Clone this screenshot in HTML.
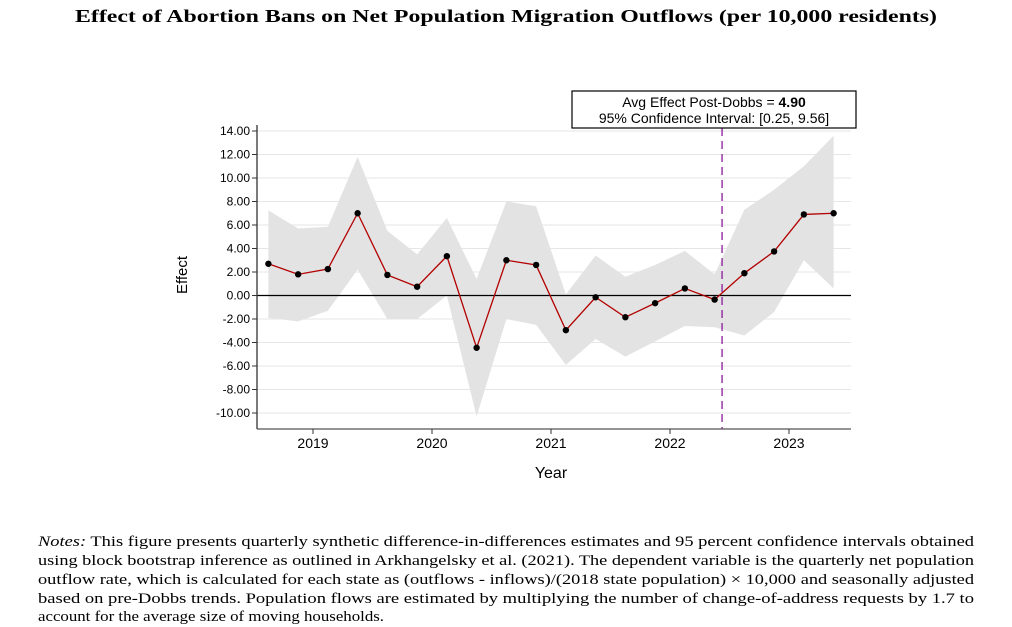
<!DOCTYPE html>
<html><head><meta charset="utf-8"><style>
body{margin:0;background:#fff;width:1012px;height:627px;overflow:hidden;position:relative}
svg{position:absolute;left:0;top:0}
text{font-family:"Liberation Sans",sans-serif}
text.serif,.serif text{font-family:"Liberation Serif",serif}
</style></head><body>
<svg id="chart" width="1012" height="627">
<text class="serif" x="75" y="22" font-size="18" font-weight="bold" textLength="862" lengthAdjust="spacingAndGlyphs">Effect of Abortion Bans on Net Population Migration Outflows (per 10,000 residents)</text>
<g class="serif" font-size="15">
<text x="38" y="546" textLength="936" lengthAdjust="spacingAndGlyphs"><tspan font-style="italic">Notes:</tspan> This figure presents quarterly synthetic difference-in-differences estimates and 95 percent confidence intervals obtained</text>
<text x="38" y="565" textLength="936" lengthAdjust="spacingAndGlyphs">using block bootstrap inference as outlined in Arkhangelsky et al. (2021). The dependent variable is the quarterly net population</text>
<text x="38" y="584" textLength="936" lengthAdjust="spacingAndGlyphs">outflow rate, which is calculated for each state as (outflows - inflows)/(2018 state population) × 10,000 and seasonally adjusted</text>
<text x="38" y="603" textLength="936" lengthAdjust="spacingAndGlyphs">based on pre-Dobbs trends. Population flows are estimated by multiplying the number of change-of-address requests by 1.7 to</text>
<text x="38" y="621" textLength="346" lengthAdjust="spacingAndGlyphs">account for the average size of moving households.</text>
</g>
</svg>
<script>
const periods=[2018.625,2018.875,2019.125,2019.375,2019.625,2019.875,2020.125,2020.375,2020.625,2020.875,2021.125,2021.375,2021.625,2021.875,2022.125,2022.375,2022.625,2022.875,2023.125,2023.375];
const effects=[2.7,1.8,2.25,7.0,1.75,0.75,3.35,-4.45,3.0,2.6,-2.95,-0.15,-1.85,-0.65,0.6,-0.35,1.9,3.75,6.9,7.0];
const upperCI=[7.25,5.7,5.85,11.8,5.5,3.5,6.6,1.4,8.0,7.6,0.1,3.4,1.6,2.6,3.8,1.8,7.3,9.0,11.0,13.6];
const lowerCI=[-1.9,-2.2,-1.3,2.2,-2.0,-2.0,0.0,-10.3,-2.0,-2.5,-5.9,-3.7,-5.2,-3.9,-2.6,-2.7,-3.4,-1.4,3.0,0.6];
const yTicks=[14,12,10,8,6,4,2,0,-2,-4,-6,-8,-10];
const xTicks=[2019,2020,2021,2022,2023];
const dobbs=2022.4375;
const X=v=>313+(v-2019)*119;
const Y=v=>295.5-v*11.75;
const svg=document.getElementById('chart');
const NS='http://www.w3.org/2000/svg';
function mk(t,a,p){const e=document.createElementNS(NS,t);for(const k in a)e.setAttribute(k,a[k]);(p||svg).appendChild(e);return e;}
const L=257,R=851;
yTicks.forEach(v=>{
  const g=mk('line',{x1:L,x2:R,y1:Y(v),y2:Y(v),stroke:'#e6e6e6','stroke-width':1});
  
  
  mk('line',{x1:L-5,x2:L,y1:Y(v),y2:Y(v),stroke:'#333'});
  const t=mk('text',{x:L-7,y:Y(v)+4,'text-anchor':'end','font-size':12});
  t.textContent=v.toFixed(2);
  
  
});
let d='M'+periods.map((p,i)=>X(p)+','+Y(upperCI[i])).join(' L');
for(let i=periods.length-1;i>=0;i--)d+=' L'+X(periods[i])+','+Y(lowerCI[i]);
const band=mk('path',{d:d+'Z',fill:'#e3e3e3'});


const zl=mk('line',{x1:L,x2:R,y1:Y(0),y2:Y(0),stroke:'#000','stroke-width':1.2});


const dl=mk('line',{x1:X(dobbs),x2:X(dobbs),y1:128,y2:429,stroke:'#8b1a9a','stroke-width':1.3,'stroke-dasharray':'8,5'});


const ln=mk('polyline',{points:periods.map((p,i)=>X(p)+','+Y(effects[i])).join(' '),fill:'none',stroke:'#b30000','stroke-width':1.3});


periods.forEach((p,i)=>{
  const c=mk('circle',{cx:X(p),cy:Y(effects[i]),r:3.2,fill:'#000'});
  
  
});
mk('line',{x1:L,x2:L,y1:125,y2:429,stroke:'#333','stroke-width':1.3});
mk('line',{x1:L,x2:R,y1:429,y2:429,stroke:'#555','stroke-width':1.3});
xTicks.forEach(v=>{
  mk('line',{x1:X(v),x2:X(v),y1:429,y2:434,stroke:'#333'});
  const t=mk('text',{x:X(v),y:448,'text-anchor':'middle','font-size':14});
  t.textContent=v;
  
  
});
const xt=mk('text',{x:551,y:478,'text-anchor':'middle','font-size':16});
xt.textContent='Year';


const yt=mk('text',{x:187,y:275,'text-anchor':'middle','font-size':15,transform:'rotate(-90 187 275)'});
yt.textContent='Effect';


const box=mk('rect',{x:572,y:91,width:284,height:37,fill:'#fff',stroke:'#000','stroke-width':1.2});


const t1=mk('text',{x:714,y:107,'text-anchor':'middle','font-size':14});
t1.innerHTML='Avg Effect Post-Dobbs = <tspan font-weight="bold">4.90</tspan>';


const t2=mk('text',{x:714,y:123,'text-anchor':'middle','font-size':14});
t2.textContent='95% Confidence Interval: [0.25, 9.56]';


</script>
</body></html>
